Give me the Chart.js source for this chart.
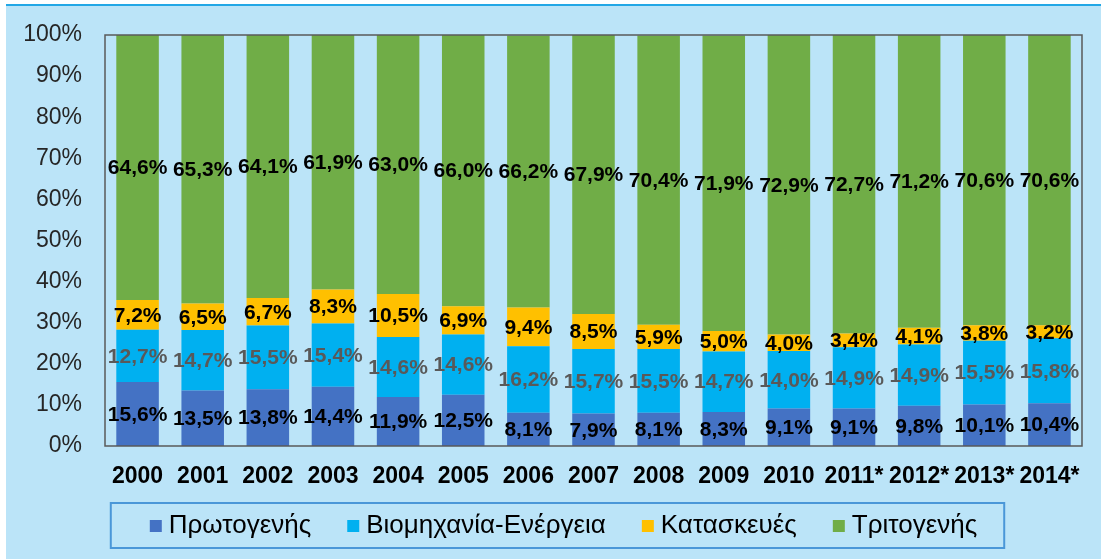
<!DOCTYPE html>
<html>
<head>
<meta charset="utf-8">
<script src="https://cdn.jsdelivr.net/npm/chart.js@4.4.1/dist/chart.umd.min.js"></script>
<style>
  body { margin: 0; background: #ffffff; }
  #wrap {
    position: absolute; left: 6px; top: 4px;
    width: 1095px; height: 553px;
    background: #bbe4f8;
    border-top: 2px solid #22a7e6;
  }
</style>
</head>
<body>
<div id="wrap"><canvas id="chart" width="1095" height="553"></canvas></div>
<script>
const years = ['2000', '2001', '2002', '2003', '2004', '2005', '2006', '2007', '2008', '2009', '2010', '2011*', '2012*', '2013*', '2014*'];
const protogenis = [15.6, 13.5, 13.8, 14.4, 11.9, 12.5, 8.1, 7.9, 8.1, 8.3, 9.1, 9.1, 9.8, 10.1, 10.4];
const viomichania = [12.7, 14.7, 15.5, 15.4, 14.6, 14.6, 16.2, 15.7, 15.5, 14.7, 14.0, 14.9, 14.9, 15.5, 15.8];
const kataskeves = [7.2, 6.5, 6.7, 8.3, 10.5, 6.9, 9.4, 8.5, 5.9, 5.0, 4.0, 3.4, 4.1, 3.8, 3.2];
const tritogenis = [64.6, 65.3, 64.1, 61.9, 63.0, 66.0, 66.2, 67.9, 70.4, 71.9, 72.9, 72.7, 71.2, 70.6, 70.6];
const yTicks = [0, 10, 20, 30, 40, 50, 60, 70, 80, 90, 100];

const FONT = '"Liberation Sans", Arial, sans-serif';
const labelColors = ['#000000', '#595959', '#000000', '#000000'];

// move the legend a bit to the right and up, like the original
const legendPlace = {
  id: 'legendPlace',
  afterLayout(chart) {
    const lg = chart.legend;
    const h = lg.bottom - lg.top;
    lg.left = 45;
    lg.top = 465;
    lg.bottom = 465 + h;
  }
};

// frame around the plot area + legend box
const framePlugin = {
  id: 'frame',
  afterDraw(chart) {
    const ctx = chart.ctx;
    const a = chart.chartArea;
    ctx.save();
    ctx.strokeStyle = '#595959';
    ctx.lineWidth = 1.5;
    ctx.strokeRect(a.left, a.top, a.right - a.left, a.bottom - a.top);

    const hb = chart.legend.legendHitBoxes;
    if (hb && hb.length) {
      const first = hb[0], last = hb[hb.length - 1];
      const cy = first.top + first.height / 2;
      ctx.strokeStyle = '#4a97d8';
      ctx.lineWidth = 2;
      const x0 = first.left - 45, x1 = last.left + last.width + 27;
      ctx.strokeRect(x0, cy - 23, x1 - x0, 45);
    }
    ctx.restore();
  }
};

// values in the middle of each segment
const valueLabels = {
  id: 'valueLabels',
  afterDatasetsDraw(chart) {
    const ctx = chart.ctx;
    ctx.save();
    ctx.font = 'bold 21px ' + FONT;
    ctx.textAlign = 'center';
    ctx.textBaseline = 'middle';
    chart.data.datasets.forEach((ds, i) => {
      const meta = chart.getDatasetMeta(i);
      ctx.fillStyle = labelColors[i];
      meta.data.forEach((bar, j) => {
        const p = bar.getProps(['x', 'y', 'base'], true);
        const txt = ds.data[j].toFixed(1).replace('.', ',') + '%';
        ctx.fillText(txt, p.x, (p.y + p.base) / 2 + 1);
      });
    });
    ctx.restore();
  }
};

const bar = { barPercentage: 0.653, categoryPercentage: 1.0 };

new Chart(document.getElementById('chart'), {
  type: 'bar',
  data: {
    labels: years,
    datasets: [
      { label: 'Πρωτογενής', data: protogenis, backgroundColor: '#4472c4', ...bar },
      { label: 'Βιομηχανία-Ενέργεια', data: viomichania, backgroundColor: '#00b0f0', ...bar },
      { label: 'Κατασκευές', data: kataskeves, backgroundColor: '#ffc000', ...bar },
      { label: 'Τριτογενής', data: tritogenis, backgroundColor: '#70ad47', ...bar }
    ]
  },
  options: {
    responsive: false,
    animation: false,
    layout: { padding: { top: 29, left: 0, right: 19, bottom: -6 } },
    plugins: {
      tooltip: { enabled: false },
      legend: {
        position: 'bottom',
        labels: {
          usePointStyle: true,
          pointStyle: 'rect',
          boxWidth: 0.01,
          boxHeight: 12,
          padding: 42,
          color: '#000000',
          font: { family: FONT, size: 26 }
        }
      }
    },
    scales: {
      x: {
        stacked: true,
        grid: { display: false, drawTicks: false },
        border: { display: false },
        ticks: { color: '#000000', padding: 17, maxRotation: 0, autoSkip: false, font: { family: FONT, size: 23, weight: 'bold' } },
        afterFit(s) { s.height = 41; }
      },
      y: {
        stacked: true,
        min: 0,
        max: 100,
        grid: { display: false, drawTicks: false },
        border: { display: false },
        afterBuildTicks(s) { s.ticks = yTicks.map(v => ({ value: v })); },
        ticks: { color: '#262626', padding: 23, font: { family: FONT, size: 23, lineHeight: 0.5 }, callback: v => v + '%' },
        afterFit(s) { s.width = 99; }
      }
    }
  },
  plugins: [legendPlace, framePlugin, valueLabels]
});
</script>
</body>
</html>
